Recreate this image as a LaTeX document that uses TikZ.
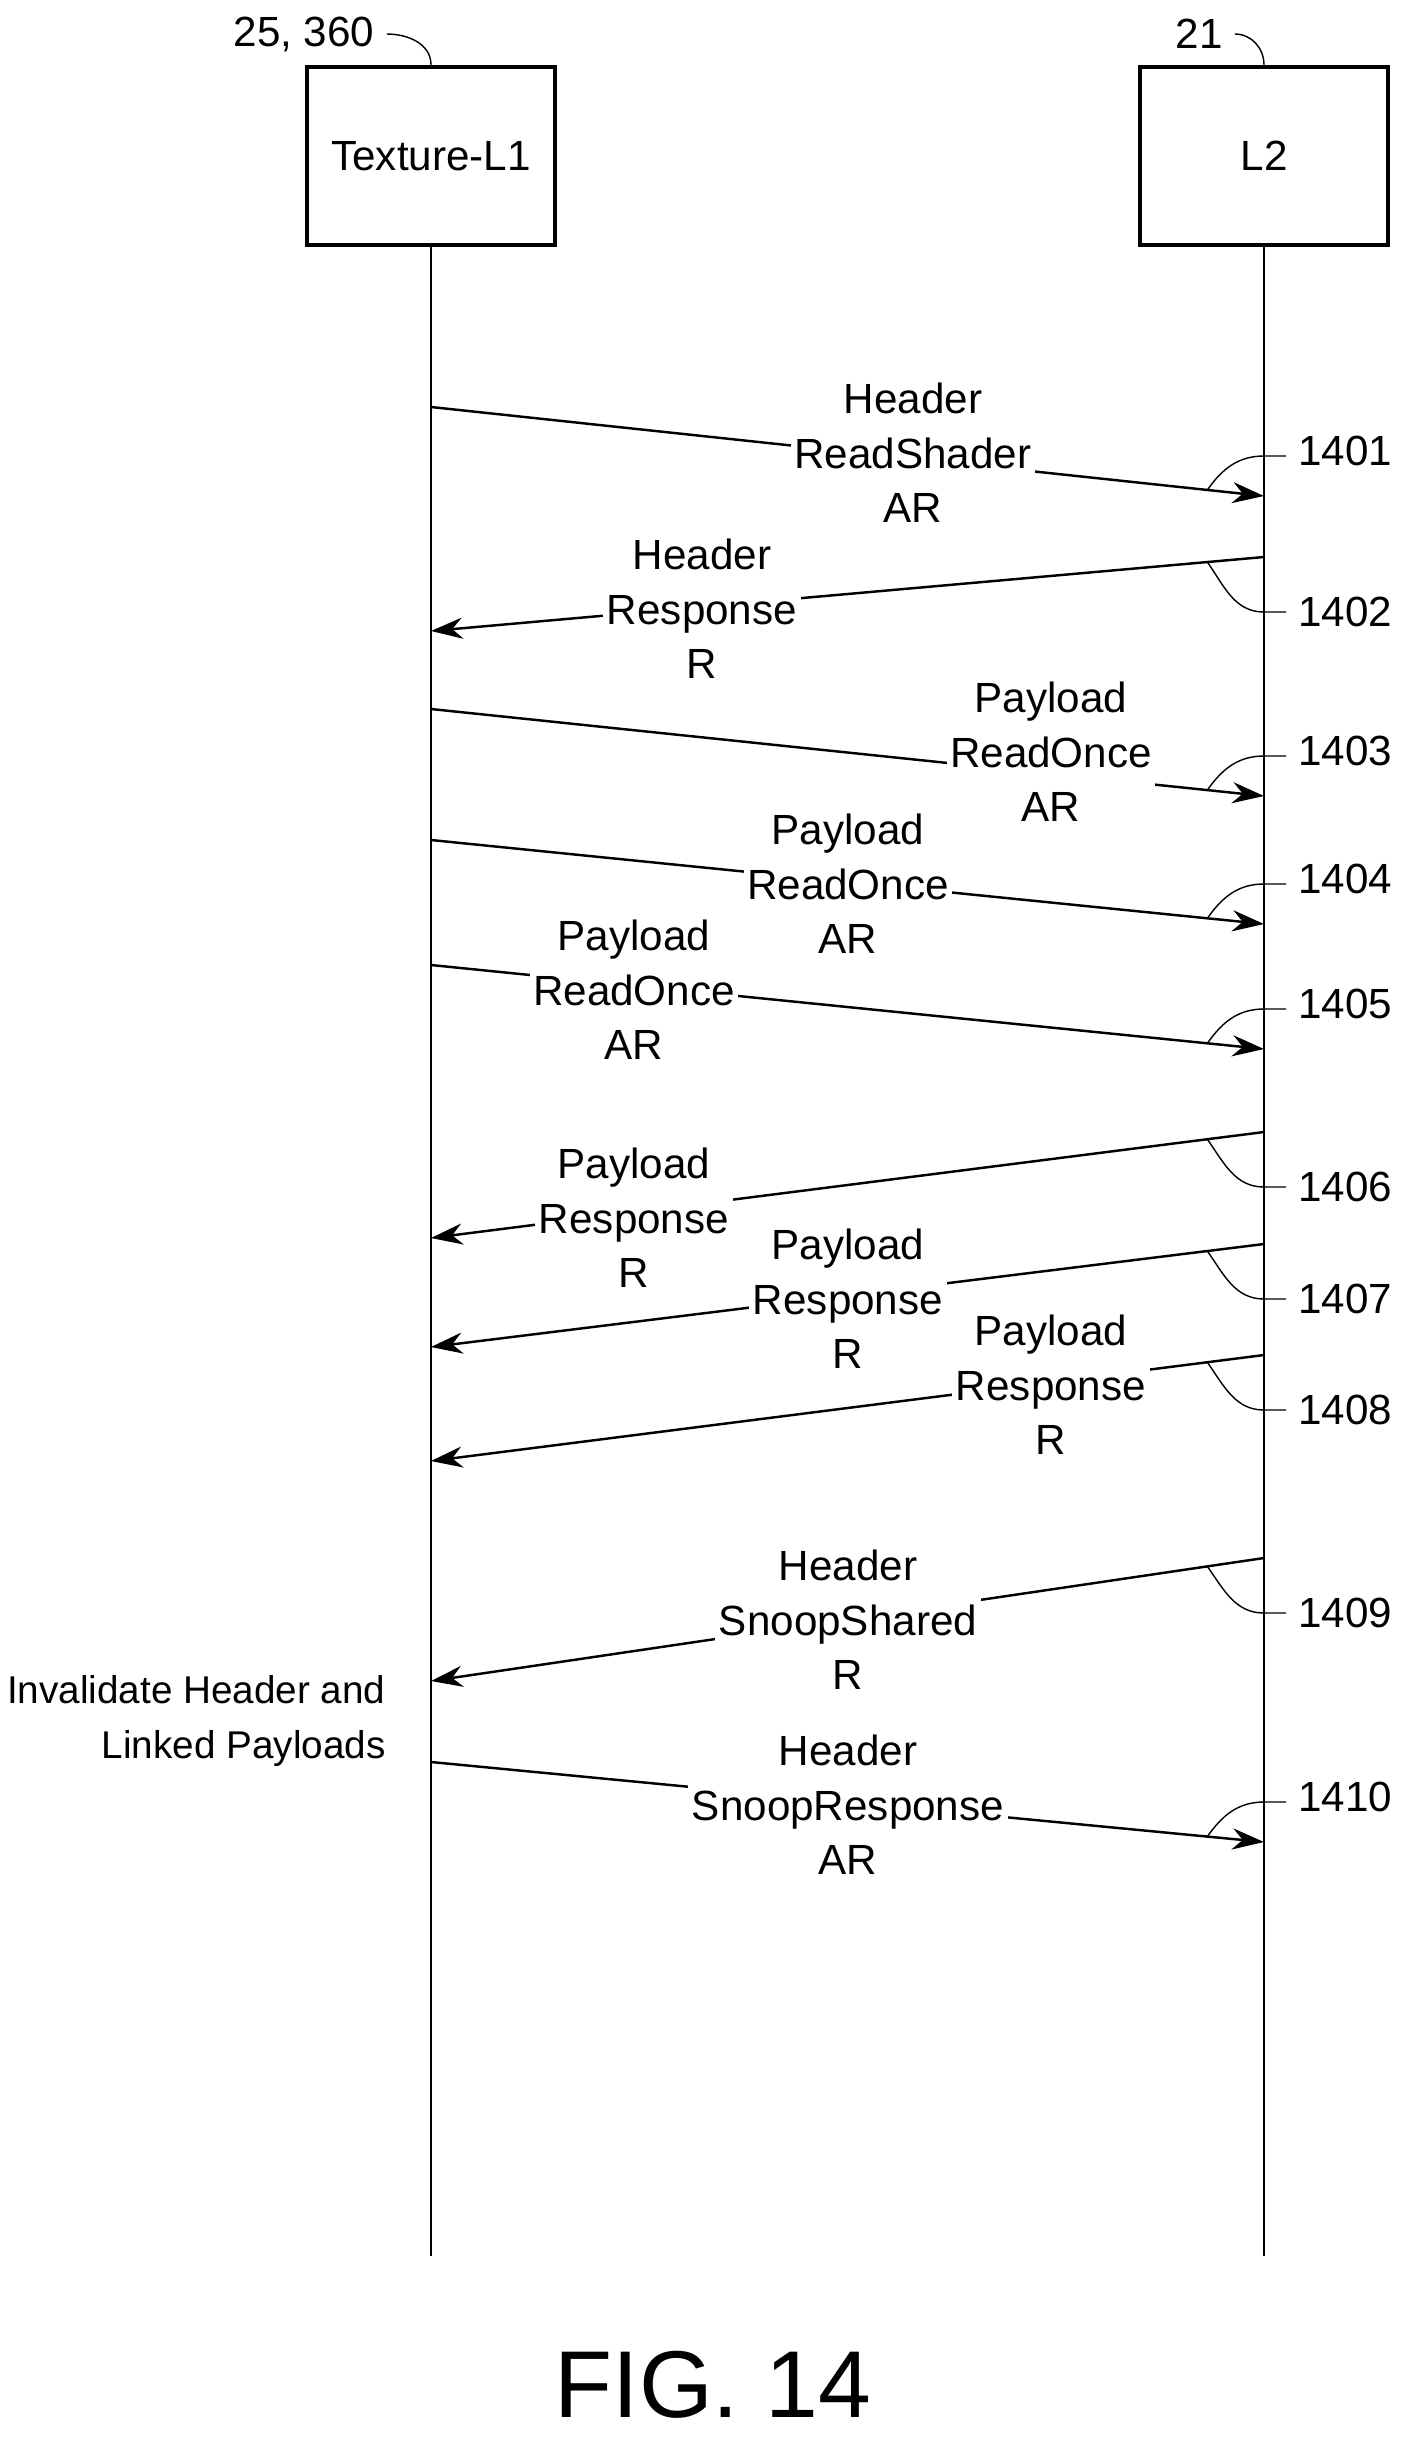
\documentclass[tikz,border=0pt]{standalone}
\usepackage{fontspec}
\setmainfont{Liberation Sans}
\usetikzlibrary{arrows.meta, calc}
\begin{document}
\begin{tikzpicture}[x=0.01cm, y=-0.01cm, >={Stealth[length=9pt,width=6pt]},
    every node/.style={font=\fontsize{12}{15.5}\selectfont},
    unit/.style={draw, minimum width=2.48cm, minimum height=1.78cm, line width=1.2pt},
    msg/.style={->, line width=0.7pt},
    tag/.style={fill=white, align=center, inner sep=1pt},
    num/.style={anchor=west, inner sep=1pt}]
    \useasboundingbox (0,0) rectangle (1416,2441);

    % Lanes
    \node[unit] (tex) at (431,156) {Texture-L1};
    \node[unit] (l2) at (1264,156) {L2};
    \coordinate (texend) at (431,2256);
    \coordinate (l2end) at (1264,2256);
    \draw[line width=0.7pt] (tex.south) -- (texend);
    \draw[line width=0.7pt] (l2.south) -- (l2end);
    \node (texref) at (304,34) {25, 360};
    \node (l2ref) at (1199,34) {21};
    \draw (texref.east) to[out=0, in=90] (tex.north);
    \draw (l2ref.east) to[out=0, in=90] (l2.north);

    % Messages
    \foreach \ys/\ye/\dir/\lx/\ly/\txt/\n in {
        407/496/1/913/453/Header\\ReadShader\\AR/1401,
        557/631/0/702/609/Header\\Response\\R/1402,
        709/796/1/1051/752/Payload\\ReadOnce\\AR/1403,
        840/924/1/848/884/Payload\\ReadOnce\\AR/1404,
        965/1049/1/634/990/Payload\\ReadOnce\\AR/1405,
        1132/1238/0/634/1218/Payload\\Response\\R/1406,
        1244/1347/0/848/1299/Payload\\Response\\R/1407,
        1355/1461/0/1051/1385/Payload\\Response\\R/1408,
        1558/1681/0/848/1620/Header\\SnoopShared\\R/1409,
        1762/1842/1/848/1805/Header\\SnoopResponse\\AR/1410}{
        \ifnum\dir=1
            \coordinate (a) at (431,\ys);
            \coordinate (b) at (1264,\ye);
            \draw[msg] (a) -- (b);
            \path (b) -- (a) coordinate[pos=0.068] (h);
            \draw (h) to[out=55, in=180] ($(b)+(0,-40)$) -- ++(22,0);
            \node[num] at ($(b)+(30,-45)$) {\n};
        \else
            \coordinate (a) at (1264,\ys);
            \coordinate (b) at (431,\ye);
            \draw[msg] (a) -- (b);
            \path (a) -- (b) coordinate[pos=0.068] (h);
            \draw (h) to[out=-55, in=180] ($(a)+(0,55)$) -- ++(22,0);
            \node[num] at ($(a)+(30,55)$) {\n};
        \fi
        \node[tag] at (\lx,\ly) {\txt};
    }

    \node[align=right, anchor=east, font=\fontsize{11}{15.5}\selectfont] (inval) at (398,1721) {Invalidate Header and\\Linked Payloads};
    \node[font=\fontsize{27}{32}\selectfont] (fig) at (713,2385) {FIG. 14};
\end{tikzpicture}
\end{document}
